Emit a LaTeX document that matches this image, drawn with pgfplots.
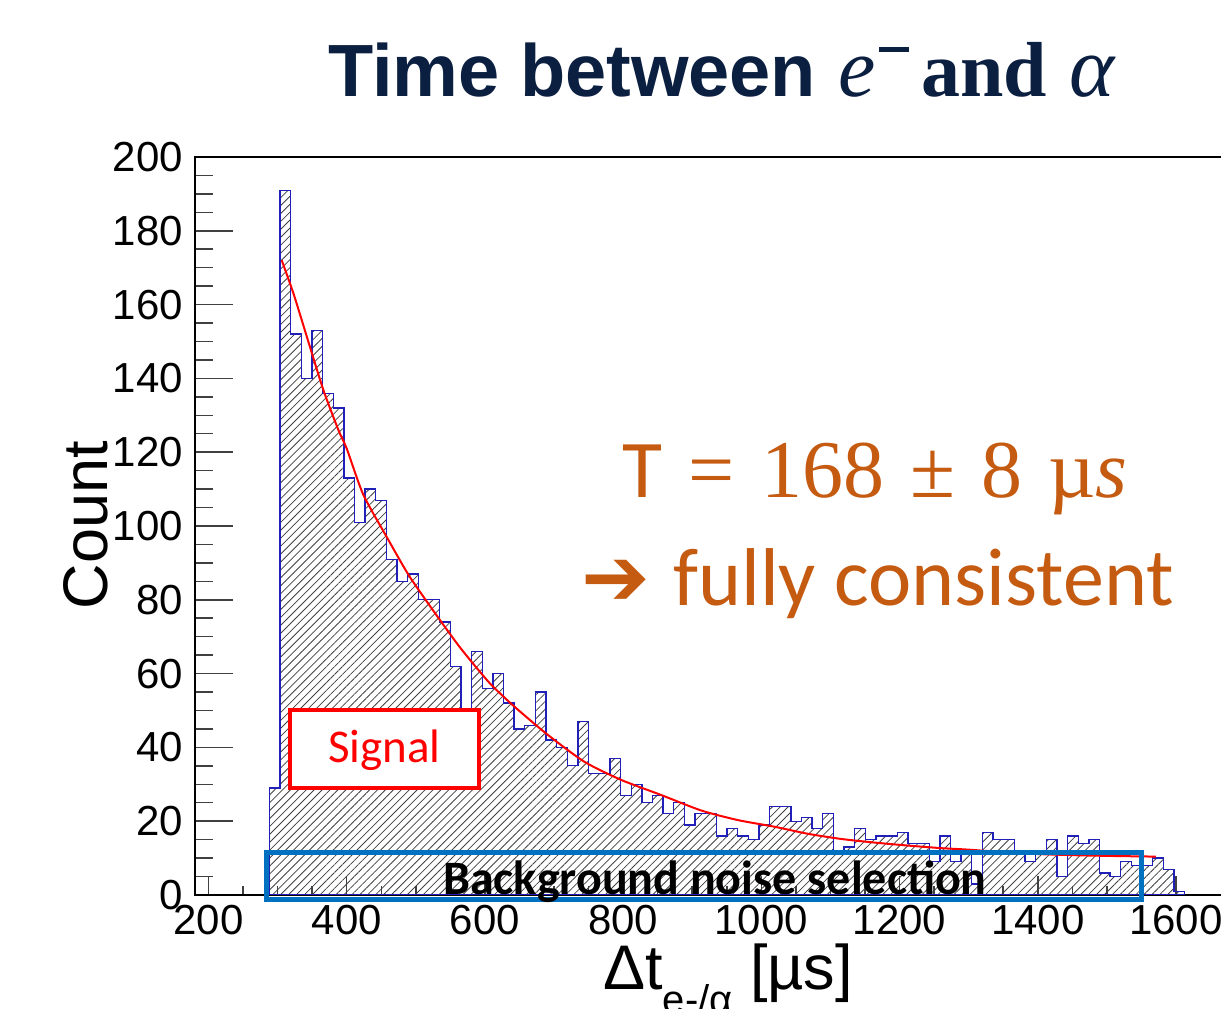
\documentclass[border=0pt]{standalone}
\usepackage{fontspec}
\setmainfont{Liberation Sans}
\newfontfamily\carlito{Carlito}
\newfontfamily\libserif{Liberation Serif}
\newfontfamily\dejavu{DejaVu Sans}
\usepackage{pgfplots}
\usepackage{pgfplotstable}
\pgfplotsset{compat=1.18}
\usetikzlibrary{patterns.meta}
\definecolor{navy}{HTML}{0B1F40}
\definecolor{orng}{HTML}{C55A11}
\definecolor{bgblue}{HTML}{0070C0}
\definecolor{histblue}{HTML}{2020B8}

\pgfplotstableread{
x y
288.1 29
303.5 191
318.9 152
334.3 140
349.7 153
365.1 136
380.5 132
395.9 113
411.3 101
426.7 110
442.1 107
457.5 91
472.9 85
488.3 87
503.7 80
519.1 80
534.5 74
549.9 62
565.3 44
580.7 66
596.1 56
611.5 60
626.9 52
642.3 45
657.7 46
673.1 55
688.5 42
703.9 40
719.3 35
734.7 47
750.1 33
765.5 33
780.9 37
796.3 27
811.7 30
827.1 25
842.5 27
857.9 22
873.3 25
888.7 19
904.1 22
919.5 22
934.9 16
950.3 18
965.7 16
981.1 15
996.5 19
1011.9 24
1027.3 24
1042.7 20
1058.1 21
1073.5 18
1088.9 22
1104.3 11
1119.7 13
1135.1 18
1150.5 15
1165.9 16
1181.3 16
1196.7 17
1212.1 14
1227.5 14
1242.9 9
1258.3 16
1273.7 9
1289.1 12
1304.5 3
1319.9 17
1335.3 15
1350.7 15
1366.1 11
1381.5 9
1396.9 11
1412.3 15
1427.7 5
1443.1 16
1458.5 14
1473.9 15
1489.3 6
1504.7 5
1520.1 9
1535.5 8
1550.9 8
1566.3 10
1581.7 7
1597.1 1
1612.5 1
}\histdata

\begin{document}
\begin{tikzpicture}[x=1pt,y=1pt]
\useasboundingbox (0,0) rectangle (1221,1009);
\clip (0,0) rectangle (1221,1009);

\node[anchor=base west, text=navy, inner sep=0pt] at (328,912)
  {\fontsize{74}{74}\selectfont\bfseries Time between\hspace{22pt}{\libserif\mdseries\itshape\fontsize{84}{84}\selectfont e}\hspace{4pt}\raisebox{45pt}{\rule{30pt}{5pt}}\hspace{12pt}{\libserif\bfseries\fontsize{78}{78}\selectfont and}\hspace{22pt}{\libserif\mdseries\itshape\fontsize{86}{86}\selectfont α}};

\begin{axis}[
  at={(195pt,114pt)}, anchor=south west,
  scale only axis, width=1030pt, height=738pt,
  xmin=180.5, xmax=1670.9, ymin=0, ymax=200,
  xtick={200,400,...,1600}, ytick={0,20,...,200},
  minor x tick num=3, minor y tick num=3,
  tick align=inside, tick pos=left,
  major tick length=38pt, minor tick length=18pt,
  xtick style={/pgfplots/major tick length=19pt,/pgfplots/minor tick length=9pt},
  axis line style={black, line width=1.6pt},
  tick style={black!75, line width=1.5pt},
  /pgf/number format/assume math mode=true,
  /pgf/number format/1000 sep={},
  scaled ticks=false,
  ticklabel style={font=\fontsize{42}{42}\selectfont},
  xticklabel style={inner sep=0pt, anchor=north, yshift=-10pt},
  yticklabel style={inner sep=0pt, anchor=east, xshift=-12pt},
  xlabel={Δt\raisebox{-0.38em}{\fontsize{40}{40}\selectfont e-/α} [µs]},
  ylabel={Count},
  xlabel style={font=\fontsize{63}{63}\selectfont, inner sep=0pt, at={(axis description cs:0.5175,-0.1287)}, anchor=base},
  ylabel style={font=\fontsize{63}{63}\selectfont, inner sep=0pt, at={(axis description cs:-0.1058,0.5014)}, anchor=center},
]
\addplot[const plot, draw=histblue, line width=1.3pt,
  pattern={Lines[angle=45,distance=5.6pt,line width=0.8pt]}, pattern color=black!75]
  table[x=x,y=y] {\histdata} \closedcycle;
\addplot[red, line width=2pt, smooth, tension=0.4] coordinates {
(306,172) (323,163) (342,151.5) (366,137) (388,126) (400,121) (424,108.5)
(458,97) (491,86.3) (535,74.5) (566,66.6) (607,57.4) (643,51) (691,43.4)
(744,36.1) (797,31.2) (855,27.1) (913,22.9) (966,20.3) (1019,18.5)
(1067,16.6) (1115,15.2) (1164,14.2) (1212,13.4) (1260,12.7) (1299,12.3)
(1350,11.6) (1400,11.1) (1450,10.8) (1500,10.6) (1571,10.4)
};
\end{axis}

\draw[red, line width=4pt, fill=white] (290,221) rectangle (479,299);
\node[text=red, anchor=base, inner sep=0pt] at (384.5,246) {\carlito\fontsize{47}{47}\selectfont Signal};
\draw[bgblue, line width=5pt] (266,109) rectangle (1141.5,156.5);
\node[anchor=base, inner sep=0pt] at (715,114) {\carlito\bfseries\fontsize{48}{48}\selectfont Background noise selection};

\node[anchor=base, text=orng, inner sep=0pt] at (875,511)
  {\fontsize{82}{82}\selectfont{\carlito T}\hspace{26pt}{\libserif =\hspace{27pt}168\hspace{26pt}±\hspace{26pt}8\hspace{26pt}µ\textit{s}}};
\node[anchor=base, text=orng, inner sep=0pt] at (878,403)
  {\fontsize{82}{82}\selectfont{\dejavu ➔} {\carlito fully consistent}};
\end{tikzpicture}
\end{document}
